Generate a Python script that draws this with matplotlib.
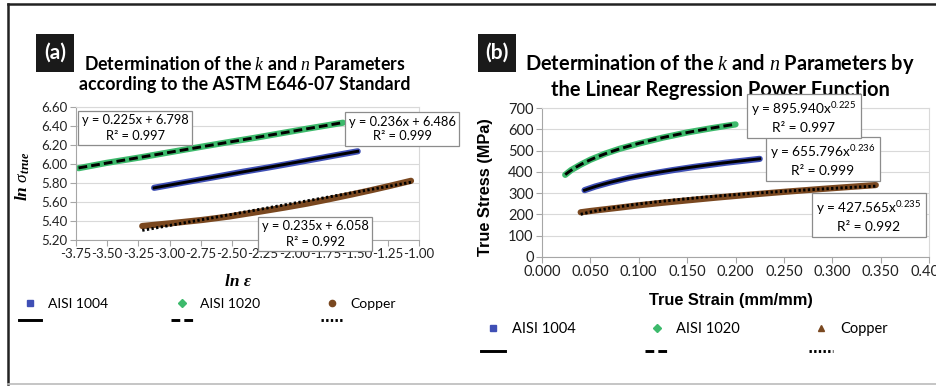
import numpy as np
import matplotlib
matplotlib.use("Agg")
import matplotlib.pyplot as plt
from matplotlib.lines import Line2D
from matplotlib.patches import Rectangle

plt.rcParams['font.family'] = ['Lato', 'DejaVu Sans']
plt.rcParams['mathtext.fontset'] = 'custom'
plt.rcParams['mathtext.rm'] = 'Lato'
plt.rcParams['mathtext.it'] = 'Liberation Serif:italic:bold'
plt.rcParams['mathtext.cal'] = 'Liberation Serif:italic'

# --- data (true strain mm/mm, true stress MPa)
materials = ["AISI 1004", "AISI 1020", "Copper"]
strain_1004 = [0.044, 0.055, 0.070, 0.090, 0.110, 0.135, 0.160, 0.190, 0.225]
stress_1004 = [314, 331, 350, 372, 389, 408, 425, 443, 461]
strain_1020 = [0.024, 0.030, 0.040, 0.050, 0.065, 0.080, 0.100, 0.125, 0.150, 0.175, 0.200]
stress_1020 = [386, 408, 434, 457, 485, 508, 533, 561, 585, 605, 623]
strain_cu = [0.040, 0.050, 0.065, 0.080, 0.100, 0.125, 0.150, 0.180, 0.215, 0.250, 0.290, 0.345]
stress_cu = [210, 216, 224, 232, 243, 255, 266, 279, 293, 306, 320, 338]

# fitted coefficients printed on the chart: sigma = k * eps^n
k_vals = [655.796, 895.940, 427.565]
n_vals = [0.236, 0.225, 0.235]
r2_vals = [0.999, 0.997, 0.992]
lin_a = [0.236, 0.225, 0.235]
lin_b = [6.486, 6.798, 6.058]

colors = ['#3f4fb5', '#3dba6c', '#7a4820']
markers_a = ['s', 'D', 'o']
markers_b = ['s', 'D', '^']
trend_styles = [dict(ls='-'), dict(dashes=(3.0, 1.4)), dict(dashes=(0.8, 0.8))]

strains = [strain_1004, strain_1020, strain_cu]
stresses = [stress_1004, stress_1020, stress_cu]

W, H = 936, 386
fig = plt.figure(figsize=(W / 100, H / 100), dpi=100)


def fx(px):
    return px / W


def fy(py):
    return (H - py) / H


def style_axes(ax):
    ax.grid(axis='y', color='#d9d9d9', lw=0.8)
    ax.set_axisbelow(True)
    for s in ['top', 'right']:
        ax.spines[s].set_color('#d9d9d9')
    for s in ['left', 'bottom']:
        ax.spines[s].set_color('#a6a6a6')
    ax.tick_params(colors='#a6a6a6', labelcolor='#222222', labelsize=9.5, length=4, width=0.8, pad=2)


def add_legend(handles, label, x0, ytop, size, hlen, gap):
    leg = fig.legend(handles, [label, ''], loc='upper left', bbox_to_anchor=(fx(x0), fy(ytop)),
                     bbox_transform=fig.transFigure, frameon=False, fontsize=size,
                     handlelength=hlen, handletextpad=0.5, labelspacing=gap,
                     borderpad=0, borderaxespad=0)
    return leg


# ---------------- panel (a)
axa = fig.add_axes([fx(76), fy(240), fx(419) - fx(76), fy(107) - fy(240)])
for i in range(3):
    x = np.log(strains[i])
    y = np.log(stresses[i])
    axa.plot(x, y, color=colors[i], lw=4.5, solid_capstyle='round', zorder=2)
    xt = np.array([x.min(), x.max()])
    axa.plot(xt, lin_a[i] * xt + lin_b[i], color='black', lw=2.1, zorder=3, **trend_styles[i])
    hs = [Line2D([], [], ls='none', marker=markers_a[i], color=colors[i], ms=4.5),
          Line2D([], [], color='black', lw=2.1, **trend_styles[i])]
    add_legend(hs, materials[i], [19, 171, 321][i], 298, 10, 1.6, 0.32)
axa.set_xlim(-3.75, -1.0)
axa.set_ylim(5.2, 6.6)
axa.set_xticks(np.arange(-3.75, -0.99, 0.25))
axa.set_yticks(np.arange(5.2, 6.61, 0.2))
axa.xaxis.set_major_formatter(matplotlib.ticker.FormatStrFormatter('%.2f'))
axa.yaxis.set_major_formatter(matplotlib.ticker.FormatStrFormatter('%.2f'))
style_axes(axa)

# ---------------- panel (b)
axb = fig.add_axes([fx(542), fy(257), fx(929) - fx(542), fy(108) - fy(257)])
for i in range(3):
    axb.plot(strains[i], stresses[i], color=colors[i], lw=4.5, solid_capstyle='round', zorder=2)
    xt = np.linspace(min(strains[i]), max(strains[i]), 60)
    axb.plot(xt, k_vals[i] * xt ** n_vals[i], color='black', lw=2.1, zorder=3, **trend_styles[i])
    hs = [Line2D([], [], ls='none', marker=markers_b[i], color=colors[i], ms=4.5),
          Line2D([], [], color='black', lw=2.1, **trend_styles[i])]
    add_legend(hs, materials[i], [481, 645, 809][i], 322, 10.5, 1.65, 0.62)
axb.set_xlim(0, 0.4)
axb.set_ylim(0, 700)
axb.set_xticks(np.arange(0, 0.401, 0.05))
axb.set_yticks(np.arange(0, 701, 100))
axb.xaxis.set_major_formatter(matplotlib.ticker.FormatStrFormatter('%.3f'))
style_axes(axb)
axb.tick_params(labelsize=10.5)

# ---------------- equation boxes
box = dict(boxstyle='square,pad=0.3', fc='white', ec='#8c8c8c', lw=0.9)
eq_a = [f"y = {lin_a[i]:.3f}x + {lin_b[i]:.3f}\nR² = {r2_vals[i]:.3f}" for i in range(3)]
pos_a = [(402, 129), (135, 128), (315, 234)]
for t, (px, py) in zip(eq_a, pos_a):
    fig.text(fx(px), fy(py), t, ha='center', va='center', fontsize=9.3, bbox=box,
             linespacing=1.3, zorder=5)
eq_b = [f"y = {k_vals[i]:.3f}x$^{{{n_vals[i]:.3f}}}$\nR² = {r2_vals[i]:.3f}" for i in range(3)]
pos_b = [(823, 160), (804, 117), (869, 216)]
for t, (px, py) in zip(eq_b, pos_b):
    fig.text(fx(px), fy(py), t, ha='center', va='center', fontsize=9.8, bbox=box,
             linespacing=1.35, zorder=5)

# ---------------- titles, labels, panel tags
fig.text(fx(245), fy(74), "Determination of the $\\mathcal{k}$ and $\\mathcal{n}$ Parameters\n"
         "according to the ASTM E646-07 Standard", ha='center', va='center',
         fontsize=12.8, fontweight='bold', linespacing=1.25)
fig.text(fx(720), fy(76), "Determination of the $\\mathcal{k}$ and $\\mathcal{n}$ Parameters by\n"
         "the Linear Regression Power Function", ha='center', va='center',
         fontsize=14.4, fontweight='bold', linespacing=1.2)
for px, tag in [(36, "(a)"), (478, "(b)")]:
    fig.add_artist(Rectangle((fx(px), fy(72)), fx(38), fy(34) - fy(72),
                             transform=fig.transFigure, fc='#1a1a1a', ec='none'))
    fig.text(fx(px + 19), fy(53), tag, ha='center', va='center', color='white',
             fontsize=15, fontweight='bold')

fig.text(fx(238), fy(282), "ln ε", ha='center', va='center', fontsize=12.5,
         family='Liberation Serif', style='italic', fontweight='bold')
fig.text(fx(23), fy(176), "$ln\\ \\mathcal{\\sigma}_{true}$", ha='center', va='center',
         fontsize=12.5, rotation=90)
fig.text(fx(731), fy(301), "True Strain (mm/mm)", ha='center', va='center', fontsize=11.8,
         family='Liberation Sans', fontweight='bold')
fig.text(fx(485), fy(187), "True Stress (MPa)", ha='center', va='center', fontsize=11.8,
         family='Liberation Sans', fontweight='bold', rotation=90)

# ---------------- outer frame
fig.add_artist(Line2D([fx(8), 1], [fy(4), fy(4)], transform=fig.transFigure, color='#222222', lw=1.8))
fig.add_artist(Line2D([fx(8), fx(8)], [fy(4), fy(384)], transform=fig.transFigure, color='#222222', lw=1.8))
fig.add_artist(Line2D([fx(8), 1], [fy(384), fy(384)], transform=fig.transFigure, color='#bbbbbb', lw=1.2))

fig.savefig("out.png", dpi=100)
